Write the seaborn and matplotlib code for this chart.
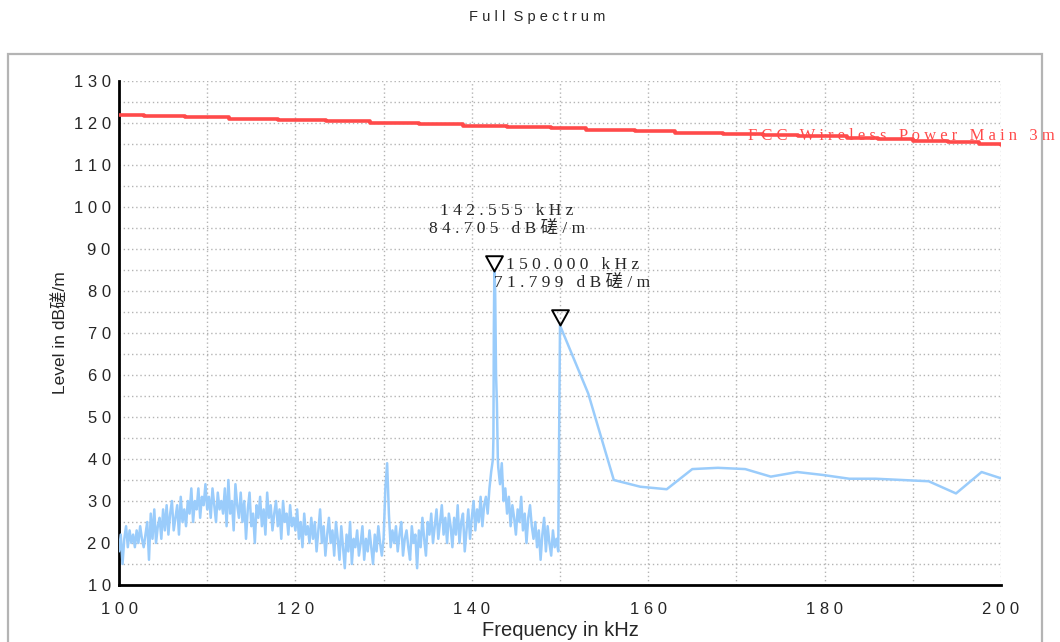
import numpy as np
import pandas as pd
import matplotlib
matplotlib.use("Agg")
import matplotlib.pyplot as plt
from matplotlib.patches import Rectangle
from matplotlib.path import Path
import seaborn as sns

# scan below 150 kHz, 0.2 kHz steps starting at 100 kHz
noise_start = 100.0
noise_db = [
    18, 22, 15, 21, 24, 19, 23, 20, 22, 19,
    23, 20, 24, 21, 19, 22, 25, 16, 27, 21,
    28, 20, 24, 26, 21, 28, 23, 29, 22, 27,
    30, 23, 26, 29, 22, 31, 25, 28, 24, 30,
    27, 33, 25, 30, 28, 33, 26, 31, 29, 34,
    28, 31, 26, 33, 29, 25, 32, 28, 30, 27,
    33, 24, 35, 27, 30, 23, 34, 29, 26, 32,
    25, 30, 21, 28, 32, 24, 27, 20, 29, 26,
    31, 24, 28, 22, 32, 26, 29, 23, 27, 30,
    24, 28, 21, 30, 25, 27, 22, 29, 24, 26,
    23, 28, 21, 25, 19, 27, 22, 24, 20, 26,
    21, 25, 18, 23, 28, 20, 24, 17, 22, 26,
    20, 23, 17, 25, 21, 16, 24, 19, 14, 22,
    18, 25, 15, 21, 19, 23, 17, 20, 24, 16,
    21, 18, 23, 19, 15, 22, 18, 24, 20, 17,
    21, 33, 39, 27, 19, 23, 20, 24, 18, 22,
    25, 17, 21, 23, 19, 16, 24, 20, 22, 14,
    23, 19, 26, 21, 17, 25, 22, 27, 20, 24,
    28, 21, 25, 29, 22, 26, 20, 27, 24, 19,
    26, 22, 29, 20, 25, 27, 18, 23, 28, 21,
    26, 30, 23, 28, 25, 31, 24, 29, 31, 27,
    33, 37, 40,
]
peak_khz = [142.45, 142.5, 142.555, 142.65, 142.75, 142.85, 142.95]
peak_db = [45, 71, 84.705, 80, 60, 53, 40]
tail_start = 143.0
tail_db = [
    38, 34, 39, 30, 33, 27, 31, 24, 29, 26,
    22, 28, 25, 31, 23, 27, 20, 26, 29, 24,
    21, 25, 19, 23, 16, 22, 26, 18, 24, 20,
    17, 23, 19, 21, 18,
]
# coarse sweep above 150 kHz
sweep_khz = [150.0, 153.2, 156.1, 159.1, 162.1, 165.0, 167.9, 171.0, 173.9,
             176.9, 179.8, 182.8, 185.8, 188.7, 191.8, 194.9, 197.8, 200.0]
sweep_db = [71.799, 55.6, 35.0, 33.4, 32.8, 37.6, 37.9, 37.6, 35.8,
            36.9, 36.2, 35.3, 35.3, 35.0, 34.7, 31.8, 36.9, 35.4]

# limit line (stepped)
limit_khz = [100, 102.8, 107.5, 112.5, 118, 123.5, 128.5, 134, 139, 144, 149, 153,
             158.5, 163, 168.5, 173, 177, 182.5, 186, 190, 194, 197.5, 200]
limit_db = [122.0, 121.7, 121.4, 121.0, 120.7, 120.4, 120.0, 119.7, 119.4, 119.1,
            118.7, 118.4, 118.1, 117.7, 117.4, 117.1, 116.8, 116.4, 116.1, 115.8,
            115.4, 115.1, 114.8]
limit_name = "FCC Wireless Power Main 3m"

marker_khz = [142.555, 150.000]
marker_db = [84.705, 71.799]
unit = "dB磋/m"

x_ticks = [100, 120, 140, 160, 180, 200]
y_ticks = list(range(10, 131, 10))

BLUE = "#9accfb"
RED = "#ff4a4a"


def spaced(s):
    return " ".join(s)


noise_khz = noise_start + 0.2 * np.arange(len(noise_db))
tail_khz = tail_start + 0.2 * np.arange(len(tail_db))
trace = pd.DataFrame({
    "khz": np.concatenate([noise_khz, peak_khz, tail_khz, sweep_khz]),
    "db": np.concatenate([noise_db, peak_db, tail_db, sweep_db]),
})

sns.set_style("white")
plt.rcParams["font.family"] = ["Liberation Sans", "Noto Sans CJK SC"]

fig = plt.figure(figsize=(10.6, 6.42), dpi=100)
ax = fig.add_axes([119 / 1060, 57 / 642, 882 / 1060, 504 / 642])

sns.lineplot(data=trace, x="khz", y="db", sort=False, estimator=None,
             color=BLUE, lw=1.8, ax=ax, zorder=3)
sns.lineplot(x=limit_khz, y=limit_db, estimator=None, drawstyle="steps-post",
             color=RED, lw=2.6, ax=ax, zorder=4)

# inverted open triangle with its tip on the marker point
tri = Path([(-0.55, 1.0), (0.55, 1.0), (0.0, 0.0), (-0.55, 1.0)], closed=True)
ax.plot(marker_khz, marker_db, ls="none", marker=tri, ms=22, mfc="none",
        mec="black", mew=1.4, zorder=6, clip_on=False)
for f, v in zip(marker_khz, marker_db):
    txt = spaced(f"{f:.3f} kHz") + "\n" + spaced(f"{v:.3f} {unit}")
    ax.annotate(txt, xy=(f, v), xytext=(9, 37), textcoords="offset points",
                ha="center", va="center", fontsize=12.5, linespacing=1.15,
                family=["Liberation Serif", "Noto Sans CJK SC"], zorder=7)

ax.text(171.3, 116.9, spaced(limit_name), color=RED, fontsize=12,
        family="Liberation Serif", va="center", ha="left", clip_on=False, zorder=7)

ax.set_xlim(100, 200)
ax.set_ylim(10, 130)
ax.set_xticks(x_ticks)
ax.set_xticks(np.arange(100, 201, 10), minor=True)
ax.set_yticks(y_ticks)
ax.set_yticks(np.arange(10, 131, 5), minor=True)
ax.set_xticklabels([spaced(str(t)) for t in x_ticks], fontsize=12)
ax.set_yticklabels([spaced(str(t)) for t in y_ticks], fontsize=12)

ax.grid(True, which="both", color="#b4b4b4", ls=(0, (1, 2)), lw=1)
ax.set_axisbelow(True)
ax.tick_params(axis="y", which="both", direction="inout", length=12, width=1.8,
               color="black", pad=0)
ax.tick_params(axis="x", which="both", direction="inout", length=10, width=1.8,
               color="black", pad=7)
for side in ["top", "right"]:
    ax.spines[side].set_visible(False)
for side in ["left", "bottom"]:
    ax.spines[side].set_linewidth(2)
    ax.spines[side].set_color("black")

ax.set_xlabel("Frequency in kHz", fontsize=14.5, labelpad=3)
ax.set_ylabel("Level in " + unit, fontsize=12.5, labelpad=4)

fig.text(537 / 1060, 1 - 17 / 642, "F u l l  S p e c t r u m", fontsize=10.5,
         ha="center", va="center")
fig.patches.append(Rectangle((8 / 1060, -0.02), 1034 / 1060, (642 - 54) / 642 + 0.02,
                             transform=fig.transFigure, fill=False,
                             edgecolor="#b4b4b4", lw=1.6))

fig.savefig("out.png", dpi=100)
